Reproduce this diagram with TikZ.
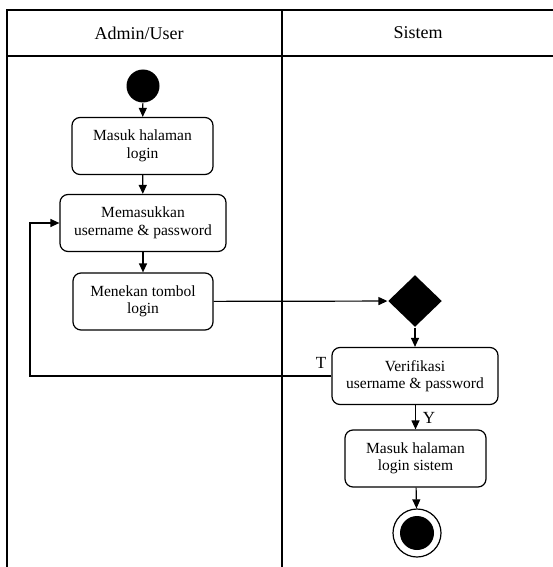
\documentclass[tikz,border=0pt]{standalone}
\usepackage{fontspec}
\setmainfont{Liberation Serif}
\usetikzlibrary{arrows.meta,shapes.geometric}
\tikzset{
	actA/.style={
		draw, rounded corners=8pt, line width=1.2pt, align=center,
		minimum height=57pt, inner sep=0pt,
		font={\fontsize{15.5}{17.5}\selectfont}
	},
	dotA/.style={fill, circle, inner sep=0pt, minimum size=33pt},
	endA/.style={draw, circle, line width=1.2pt, inner sep=0pt, minimum size=48pt},
	decA/.style={fill, diamond, inner sep=0pt, minimum width=54pt, minimum height=52pt},
	laneA/.style={font={\fontsize{18}{20}\selectfont}},
	lblA/.style={font={\fontsize{17}{19}\selectfont}, inner sep=0pt},
	>={Triangle[length=9pt,width=8pt]},
}

\begin{document}
\begin{tikzpicture}[x=1pt, y=-1pt, line width=1.2pt]
\useasboundingbox (0,0) rectangle (553,567);
% swimlanes
\draw (553,10) -- (7,10) -- (7,567);
\draw (7,56) -- (553,56);
\draw (282,10) -- (282,567);
\node[laneA] (admin) at (139,33) {Admin/User};
\node[laneA] (sistem) at (418,33) {Sistem};
% admin/user
\node[dotA] (mulai) at (143,86) {};
\node[actA, minimum width=141pt] (masuk) at (142.5,146) {Masuk halaman\\login};
\node[actA, minimum width=166pt] (isi) at (143,223) {Memasukkan\\username \& password};
\node[actA, minimum width=140pt] (tekan) at (143,301.5) {Menekan tombol\\login};
% sistem
\node[decA] (cek) at (415,301) {};
\node[actA, minimum width=166pt] (verif) at (415,376) {Verifikasi\\username \& password};
\node[actA, minimum width=141pt] (masuksis) at (415.5,458.5) {Masuk halaman\\login sistem};
\node[endA] (akhir) at (417,533) {};
\node[dotA, minimum size=34pt] (akhirdot) at (akhir) {};
\coordinate (balik) at (30,376);
% flows
\draw[->] (mulai) -- (masuk);
\draw[->] (masuk) -- (isi);
\draw[->] (isi) -- (tekan);
\draw[->] (tekan) -- (cek);
\draw[->] (cek) -- (verif);
\draw[->] (verif.west) -- (balik) |- (isi.west);
\draw[->] (verif.south -| masuksis) -- (masuksis);
\draw[->] (masuksis) -- (akhir);
\node[lblA] (tdk) at (321,363) {T};
\node[lblA] (ya) at (429,418) {Y};
\end{tikzpicture}
\end{document}
